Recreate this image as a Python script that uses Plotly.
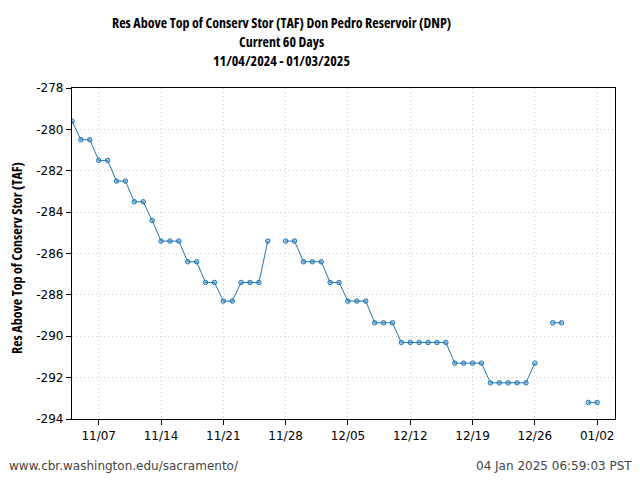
import plotly.graph_objects as go
import pandas as pd

dates = pd.date_range("2024-11-04", "2025-01-03", freq="D").strftime("%Y-%m-%d").tolist()
values = [
    -279.6, -280.5, -280.5, -281.5, -281.5, -282.5, -282.5, -283.5, -283.5, -284.4,  # 11/04-11/13
    -285.4, -285.4, -285.4, -286.4, -286.4, -287.4, -287.4, -288.3, -288.3, -287.4,  # 11/14-11/23
    -287.4, -287.4, -285.4, None, -285.4, -285.4, -286.4, -286.4, -286.4, -287.4,    # 11/24-12/03
    -287.4, -288.3, -288.3, -288.3, -289.35, -289.35, -289.35, -290.3, -290.3, -290.3,  # 12/04-12/13
    -290.3, -290.3, -290.3, -291.3, -291.3, -291.3, -291.3, -292.25, -292.25, -292.25,  # 12/14-12/23
    -292.25, -292.25, -291.3, None, -289.35, -289.35, None, None, -293.2, -293.2,    # 12/24-01/02
    None,  # 01/03
]

y_tickvals = [-294, -292, -290, -288, -286, -284, -282, -280, -278]
y_ticktext = ["-294", "-292", "-290", "-288", "-286", "-284", "-282", "-280", "-278"]
x_tickvals = ["2024-11-07", "2024-11-14", "2024-11-21", "2024-11-28", "2024-12-05",
              "2024-12-12", "2024-12-19", "2024-12-26", "2025-01-02"]
x_ticktext = ["11/07", "11/14", "11/21", "11/28", "12/05", "12/12", "12/19", "12/26", "01/02"]

title_lines = ["Res Above Top of Conserv Stor (TAF) Don Pedro Reservoir (DNP)",
               "Current 60 Days", "11/04/2024 - 01/03/2025"]
y_label = "Res Above Top of Conserv Stor (TAF)"
footer_left = "www.cbr.washington.edu/sacramento/"
footer_right = "04 Jan 2025 06:59:03 PST"

# page body adds an 8px offset; size the figure so the plot area lands at 72..615 x 88..419
OFF = 8
L, R, T, B = 72, 25, 88, 61
PW, PH = 640 - L - R, 480 - T - B

fig = go.Figure()
fig.add_trace(go.Scatter(
    x=dates, y=values, mode="lines+markers", connectgaps=False,
    line=dict(color="#1f77b4", width=1),
    marker=dict(symbol="circle", size=4.5, color="rgba(31,119,180,0.35)",
                line=dict(color="#1f77b4", width=1)),
    showlegend=False,
))

axis_common = dict(
    showline=True, linecolor="black", linewidth=1.3, mirror=True,
    ticks="outside", ticklen=5, tickcolor="black", tickwidth=1,
    showgrid=True, gridcolor="#cfcfcf", griddash="1px,3px", gridwidth=1,
    zeroline=False,
    tickfont=dict(family="DejaVu Sans", size=12, color="black"),
)

fig.update_xaxes(range=["2024-11-04", "2025-01-04"], tickvals=x_tickvals,
                 ticktext=x_ticktext, **axis_common)
fig.update_yaxes(range=[-294, -278], tickvals=y_tickvals, ticktext=y_ticktext,
                 **axis_common)

COND = '<span style="font-stretch:80%"><b>{}</b></span>'

for i, line in enumerate(title_lines):
    fig.add_annotation(text=COND.format(line), xref="paper", yref="paper",
                       x=(281 - L) / PW, y=1 + (T - (22 + 19.5 * i)) / PH,
                       xanchor="center", yanchor="middle", showarrow=False,
                       font=dict(family="Open Sans", size=14, color="black"))

fig.add_annotation(text=COND.format(y_label), xref="paper", yref="paper",
                   x=-(L - 17) / PW, y=(419 - 258) / PH, textangle=-90,
                   xanchor="center", yanchor="middle", showarrow=False,
                   font=dict(family="Open Sans", size=14, color="black"))

fig.add_annotation(text=footer_left, xref="paper", yref="paper",
                   x=-(L - 7) / PW, y=-(466 - 419) / PH, xanchor="left",
                   yanchor="middle", showarrow=False,
                   font=dict(family="DejaVu Sans", size=12, color="#444444"))
fig.add_annotation(text=footer_right, xref="paper", yref="paper",
                   x=1 + (634 - 615) / PW, y=-(466 - 419) / PH, xanchor="right",
                   yanchor="middle", showarrow=False,
                   font=dict(family="DejaVu Sans", size=12, color="#444444"))

fig.update_layout(
    width=640 - OFF, height=480 - OFF,
    margin=dict(l=L - OFF, r=R, t=T - OFF, b=B, autoexpand=False),
    paper_bgcolor="white", plot_bgcolor="white",
)

fig.write_html("out.html")
